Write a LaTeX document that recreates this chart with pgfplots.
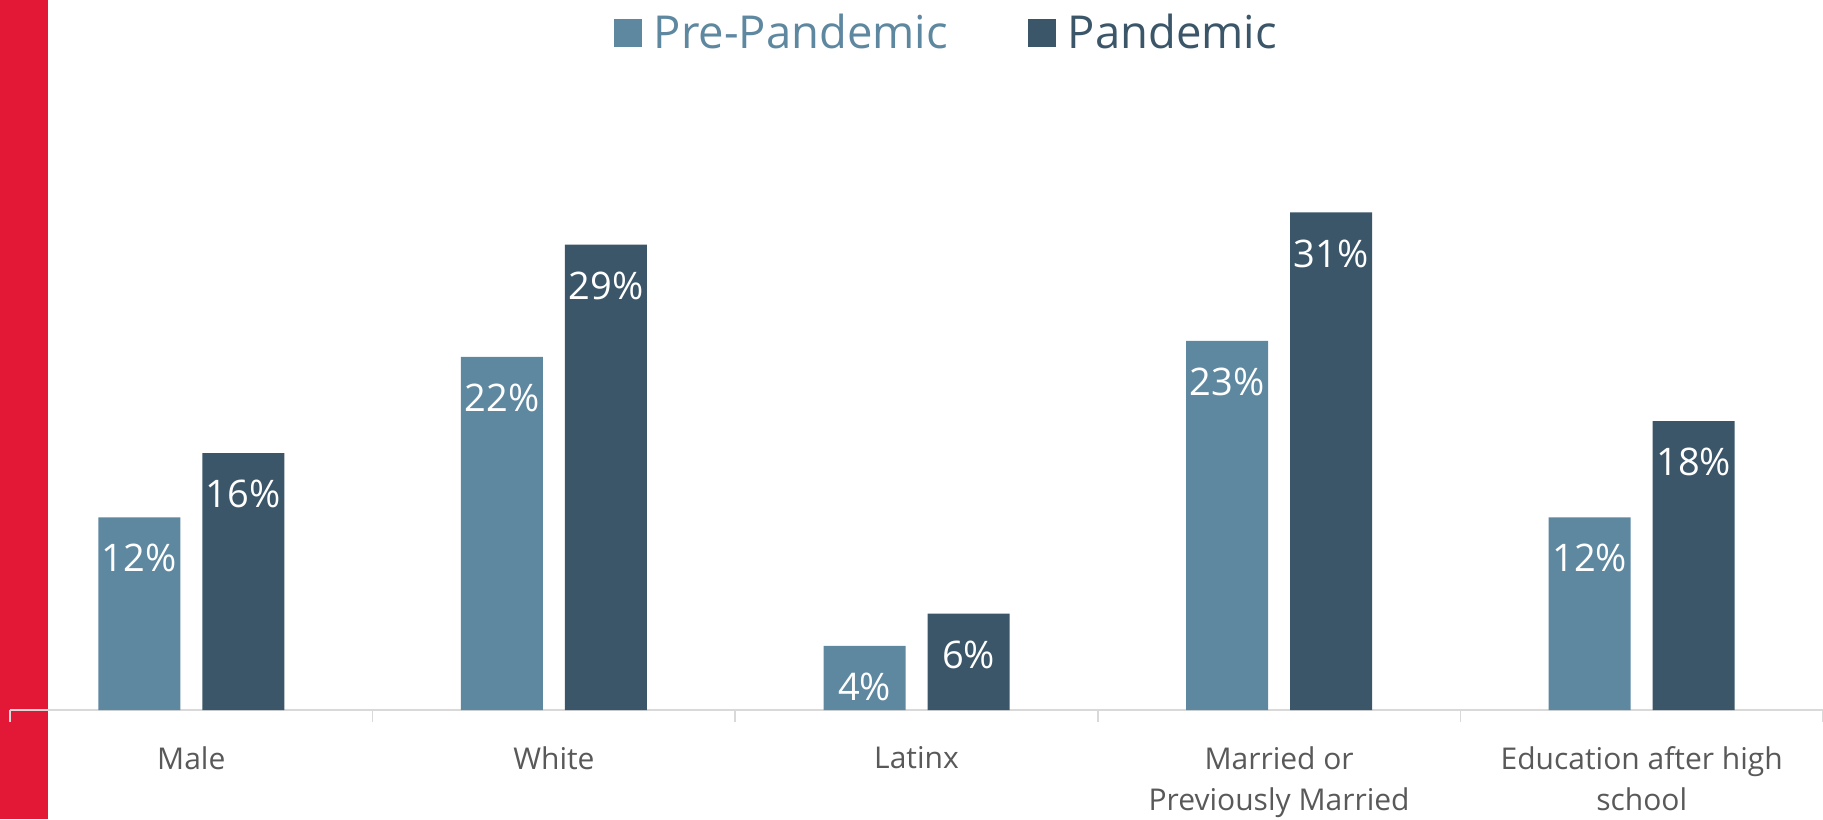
\documentclass[border=0pt]{standalone}
\usepackage{fontspec}
\setmainfont{Open Sans}
\usepackage{pgfplots}
\pgfplotsset{compat=1.18}

\definecolor{prepan}{RGB}{94,135,160}
\definecolor{pan}{RGB}{59,86,105}
\definecolor{accent}{RGB}{227,24,55}
\definecolor{axgray}{RGB}{217,217,217}
\definecolor{lblgray}{RGB}{89,89,89}

\begin{document}
\begin{tikzpicture}
% page extent and the red side band
\useasboundingbox (-5pt,-54.5pt) rectangle (906.5pt,355pt);
\fill[accent] (-5pt,-54.5pt) rectangle (19pt,355pt);
\begin{axis}[
  scale only axis,
  width=906.5pt, height=321pt,
  ymin=0, ymax=40,
  xmin=-0.5, xmax=4.5,
  ybar=11pt, bar width=41pt,
  axis y line=none,
  axis x line*=bottom,
  x axis line style={-, draw=axgray, line width=0.75pt},
  xtick={0,1,2,3,4},
  xticklabels={Male, White, Latinx, {Married or\\Previously Married}, {Education after high\\school}},
  major tick length=0pt,
  minor xtick={-0.5,0.5,1.5,2.5,3.5,4.5},
  minor tick length=6pt,
  tick align=outside,
  minor tick style={draw=axgray, line width=0.75pt},
  xticklabel style={font=\fontsize{15}{20.5}\selectfont, text=lblgray, align=center, anchor=north, yshift=-14.8pt},
  nodes near coords={\pgfmathprintnumber[assume math mode=true]{\pgfplotspointmeta}\%},
  every node near coord/.append style={font=\fontsize{19}{22}\selectfont, text=white, anchor=center, yshift=-20.5pt},
  legend image code/.code={\fill[#1] (0pt,-7pt) rectangle (14pt,7pt);},
  legend style={draw=none, fill=none, legend columns=2,
    font=\fontsize{22.7}{26}\selectfont,
    at={(rel axis cs:0.517,1)}, anchor=center, yshift=17.5pt,
    /tikz/every odd column/.append style={column sep=4pt},
    /tikz/every even column/.append style={column sep=38pt}},
]
\addplot[fill=prepan, draw=none] coordinates {(0,12) (1,22) (2,4) (3,23) (4,12)};
\addlegendentry{\textcolor{prepan}{Pre-Pandemic}}
\addplot[fill=pan, draw=none] coordinates {(0,16) (1,29) (2,6) (3,31) (4,18)};
\addlegendentry{\textcolor{pan}{Pandemic}}
\end{axis}
\end{tikzpicture}
\end{document}
